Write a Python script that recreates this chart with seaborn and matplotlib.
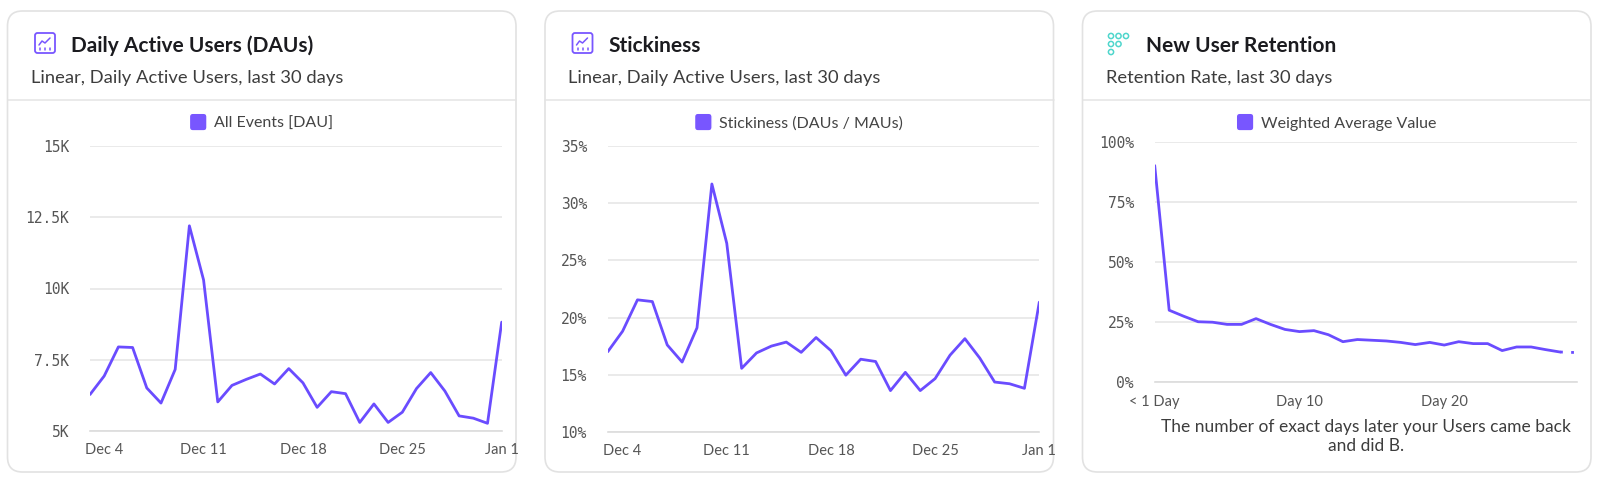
import numpy as np
import pandas as pd
import matplotlib
matplotlib.use("Agg")
import matplotlib.pyplot as plt
import seaborn as sns
from matplotlib.patches import FancyBboxPatch, Circle, Patch
from matplotlib.lines import Line2D
from matplotlib.legend_handler import HandlerPatch

# ---------------- data ----------------
dau_dates = pd.date_range("2022-12-03", "2023-01-01", freq="D")
dau_values = [6280, 6930, 7950, 7930, 6510, 5980, 7160, 12200, 10300, 6020,
              6600, 6810, 7000, 6650, 7190, 6690, 5830, 6380, 6310, 5300,
              5950, 5300, 5660, 6490, 7050, 6400, 5530, 5450, 5270, 8820]
stick_values = [17.0, 18.8, 21.55, 21.4, 17.6, 16.1, 19.1, 31.7, 26.5, 15.55,
                16.9, 17.5, 17.85, 16.95, 18.25, 17.1, 14.95, 16.35, 16.15, 13.6,
                15.2, 13.6, 14.65, 16.7, 18.15, 16.45, 14.35, 14.2, 13.8, 21.35]
ret_days = list(range(30))
ret_values = [90.2, 30.0, 27.5, 25.2, 25.0, 24.1, 24.1, 26.5, 24.1, 22.0,
              21.1, 21.5, 19.8, 16.9, 17.8, 17.5, 17.2, 16.6, 15.7, 16.6,
              15.5, 16.9, 16.1, 16.1, 13.2, 14.7, 14.7, 13.6, 12.6, 12.4]

date_ticks = pd.to_datetime(["2022-12-04", "2022-12-11", "2022-12-18", "2022-12-25", "2023-01-01"])
date_tick_labels = ["Dec 4", "Dec 11", "Dec 18", "Dec 25", "Jan 1"]
dau_yticks = [5000, 7500, 10000, 12500, 15000]
dau_ylabels = ["5K", "7.5K", "10K", "12.5K", "15K"]
stick_yticks = [10, 15, 20, 25, 30, 35]
stick_ylabels = ["10%", "15%", "20%", "25%", "30%", "35%"]
ret_yticks = [0, 25, 50, 75, 100]
ret_ylabels = ["0%", "25%", "50%", "75%", "100%"]
ret_xticks = [0, 10, 20]
ret_xlabels = ["< 1 Day", "Day 10", "Day 20"]

titles = ["Daily Active Users (DAUs)", "Stickiness", "New User Retention"]
subtitles = ["Linear, Daily Active Users, last 30 days",
             "Linear, Daily Active Users, last 30 days",
             "Retention Rate, last 30 days"]
legend_labels = ["All Events [DAU]", "Stickiness (DAUs / MAUs)", "Weighted Average Value"]
ret_xaxis_label = "The number of exact days later your Users came back\nand did B."

# ---------------- style ----------------
sns.set_theme(style="white")
SANS = ["Lato", "DejaVu Sans"]
MONO = ["DejaVu Sans Mono"]
plt.rcParams["font.family"] = SANS

PURPLE = "#6a4cff"
PURPLE_LEG = "#7856ff"
TEAL = "#4fd6cc"
GRID = "#e6e6e6"
TXT = "#3d3d3d"
TICK = "#555555"

W, H = 1600, 480
fig = plt.figure(figsize=(W / 100, H / 100), dpi=100)
fig.patch.set_facecolor("white")
T = fig.dpi_scale_trans  # inches


def inch(xp, yp):
    return xp / 100.0, (H - yp) / 100.0


def add_axes_px(x0, x1, ytop, ybot):
    ax = fig.add_axes([x0 / W, 1 - ybot / H, (x1 - x0) / W, (ybot - ytop) / H])
    ax.set_zorder(5)
    return ax


def rounded_square(legend, orig_handle, xdescent, ydescent, width, height, fontsize):
    s = fontsize * 1.1
    x0 = -xdescent + (width - s) / 2
    y0 = -ydescent + (height - s) / 2
    return FancyBboxPatch((x0, y0), s, s, boxstyle="round,pad=0,rounding_size=%f" % (s * 0.2),
                          facecolor=orig_handle.get_facecolor(), edgecolor="none")


card_lefts = [7.5, 545, 1082.5]
card_w = 508.5
card_top, card_bot = 11, 472

for i, cl in enumerate(card_lefts):
    x, y = inch(cl, card_bot)
    fig.patches.append(FancyBboxPatch((x, y), card_w / 100, (card_bot - card_top) / 100,
                                      boxstyle="round,pad=0,rounding_size=0.15",
                                      transform=T, facecolor="white", edgecolor="#e2e2e2",
                                      linewidth=1.2, zorder=-5))
    # separator
    xs, ys = inch(cl, 99.5)
    fig.lines.append(Line2D([xs, xs + card_w / 100], [ys, ys], transform=T,
                            color="#e4e4e4", linewidth=1.1, zorder=-4))
    tx, ty = inch(cl + 63.5, 51.5)
    fig.text(tx, ty, titles[i], transform=T, fontsize=15, fontweight="bold",
             color="#1b1b1f", va="baseline", ha="left")
    sx, sy = inch(cl + 23.5, 83)
    fig.text(sx, sy, subtitles[i], transform=T, fontsize=13.2, color=TXT,
             va="baseline", ha="left")
    # legend
    lx, ly = inch(cl + card_w / 2, 123)
    handle = Patch(facecolor=PURPLE_LEG)
    fig.legend([handle], [legend_labels[i]], loc="center", bbox_to_anchor=(lx, ly),
               bbox_transform=T, frameon=False, fontsize=11.5, handletextpad=0.5,
               handlelength=1.0, handleheight=0.9, labelcolor="#444444",
               handler_map={Patch: HandlerPatch(patch_func=rounded_square)})

# icons (chart icon for first two cards)
for cl in card_lefts[:2]:
    cx, cy = cl + 37.5, 43
    x, y = inch(cx - 10, cy + 10)
    fig.patches.append(FancyBboxPatch((x, y), 0.2, 0.2, boxstyle="round,pad=0,rounding_size=0.025",
                                      transform=T, facecolor="none", edgecolor=PURPLE_LEG, linewidth=1.3))
    pts = [(cx - 6, cy + 2), (cx - 3, cy - 2), (cx, cy), (cx + 5, cy - 5)]
    px = [inch(a, b)[0] for a, b in pts]
    py = [inch(a, b)[1] for a, b in pts]
    fig.lines.append(Line2D(px, py, transform=T, color=PURPLE_LEG, linewidth=1.1))
    for dx in (-5, 0, 5):
        a, b1 = inch(cx + dx, cy + 4.5)
        _, b2 = inch(cx + dx, cy + 6.5)
        fig.lines.append(Line2D([a, a], [b1, b2], transform=T, color=PURPLE_LEG, linewidth=1.1))

# retention icon
for (ox, oy) in [(1111, 36), (1118.5, 36), (1126, 36), (1111, 44), (1118.5, 44), (1111, 52)]:
    a, b = inch(ox, oy)
    fig.patches.append(Circle((a, b), 0.026, transform=T, facecolor="none",
                              edgecolor=TEAL, linewidth=1.1))


def style_ax(ax):
    ax.set_facecolor("none")
    for s in ["left", "right", "top"]:
        ax.spines[s].set_visible(False)
    ax.spines["bottom"].set_color("#dcdcdc")
    ax.spines["bottom"].set_linewidth(1.2)
    ax.grid(axis="y", color=GRID, linewidth=1.2)
    ax.grid(axis="x", visible=False)
    ax.set_axisbelow(True)
    ax.tick_params(axis="y", length=0, pad=15, labelsize=10.5, labelcolor=TICK)
    ax.tick_params(axis="x", length=6, width=1.2, color="#dcdcdc", pad=3,
                   labelsize=10.5, labelcolor=TICK)
    for lab in ax.get_yticklabels():
        lab.set_fontfamily(MONO)
    ax.set_xlabel("")
    ax.set_ylabel("")


# ---------------- DAU ----------------
ax1 = add_axes_px(90, 501.7, 146, 431)
df1 = pd.DataFrame({"date": dau_dates, "value": dau_values})
sns.lineplot(data=df1, x="date", y="value", ax=ax1, color=PURPLE, linewidth=2.0)
ax1.set_xlim(dau_dates[0], dau_dates[-1])
ax1.set_ylim(dau_yticks[0], dau_yticks[-1])
ax1.set_xticks(date_ticks)
ax1.set_xticklabels(date_tick_labels)
ax1.set_yticks(dau_yticks)
ax1.set_yticklabels(dau_ylabels)
style_ax(ax1)

# ---------------- Stickiness ----------------
ax2 = add_axes_px(607.7, 1039.3, 146.3, 431.7)
df2 = pd.DataFrame({"date": dau_dates, "value": stick_values})
sns.lineplot(data=df2, x="date", y="value", ax=ax2, color=PURPLE, linewidth=2.0)
ax2.set_xlim(dau_dates[0], dau_dates[-1])
ax2.set_ylim(stick_yticks[0], stick_yticks[-1])
ax2.set_xticks(date_ticks)
ax2.set_xticklabels(date_tick_labels)
ax2.set_yticks(stick_yticks)
ax2.set_yticklabels(stick_ylabels)
style_ax(ax2)

# ---------------- Retention ----------------
ax3 = add_axes_px(1154.7, 1576.7, 142, 382.3)
df3 = pd.DataFrame({"day": ret_days, "value": ret_values})
sns.lineplot(data=df3.iloc[:-1], x="day", y="value", ax=ax3, color=PURPLE, linewidth=2.0)
sns.lineplot(data=df3.iloc[-2:], x="day", y="value", ax=ax3, color=PURPLE, linewidth=2.0,
             linestyle=(0, (1, 3)))
ax3.set_xlim(0, 29.15)
ax3.set_ylim(ret_yticks[0], ret_yticks[-1])
ax3.set_xticks(ret_xticks)
ax3.set_xticklabels(ret_xlabels)
ax3.set_yticks(ret_yticks)
ax3.set_yticklabels(ret_ylabels)
style_ax(ax3)
xlx, xly = inch(1366, 419)
fig.text(xlx, xly, ret_xaxis_label, transform=T, ha="center", va="top",
         fontsize=12.5, color=TXT, linespacing=1.25)

fig.savefig("out.png", dpi=100, facecolor="white")
